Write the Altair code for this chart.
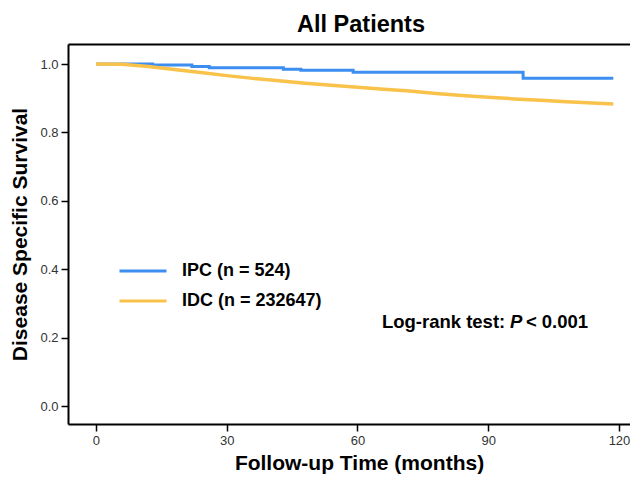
import altair as alt
import pandas as pd

# ---- data ----
groups = ["IPC (n = 524)", "IDC (n = 232647)"]
colors = ["#3C8EF0", "#F9C24A"]

ipc_months = [0, 13, 22, 26, 43, 47, 59, 98, 118.7]
ipc_surv = [1.0, 0.997, 0.993, 0.989, 0.985, 0.982, 0.976, 0.958, 0.958]

idc_months = [0, 6, 12, 18, 24, 30, 36, 42, 48, 54, 60, 66, 72, 78, 84, 90,
              96, 102, 108, 114, 118.7]
idc_surv = [1.0, 0.999, 0.993, 0.984, 0.975, 0.966, 0.958, 0.951, 0.944,
            0.938, 0.932, 0.926, 0.921, 0.914, 0.908, 0.903, 0.898, 0.894,
            0.890, 0.886, 0.883]

x_ticks = [0, 30, 60, 90, 120]
y_ticks = [0.0, 0.2, 0.4, 0.6, 0.8, 1.0]

annot_month = [65.6]
annot_surv = [0.2456]
annot_parts = ["Log-rank test: ", "P", "< 0.001"]

FONT = "Liberation Sans"

ipc = pd.DataFrame({"month": ipc_months, "surv": ipc_surv, "group": groups[0]})
idc = pd.DataFrame({"month": idc_months, "surv": idc_surv, "group": groups[1]})
ann = pd.DataFrame({"month": annot_month, "surv": annot_surv,
                    "a": [annot_parts[0]], "b": [annot_parts[1]], "c": [annot_parts[2]]})

xscale = alt.Scale(domain=[-6.42, 122.53], nice=False, zero=False)
yscale = alt.Scale(domain=[-0.0526, 1.0585], nice=False, zero=False)

xaxis = alt.Axis(values=x_ticks, format="d", title="Follow-up Time (months)",
                 orient="bottom",
                 titleFontSize=21, titleFontWeight="bold", titleFont=FONT,
                 titleColor="black", titlePadding=5, titleX=291,
                 labelFont=FONT, labelFontSize=13, labelColor="#333333",
                 labelPadding=3, tickSize=7, tickWidth=1.5, tickColor="black",
                 domainColor="black", domainWidth=2, grid=False)
yaxis = alt.Axis(values=y_ticks, format=".1f", title="Disease Specific Survival",
                 titleFontSize=21, titleFontWeight="bold", titleFont=FONT,
                 titleColor="black", titlePadding=9,
                 labelFont=FONT, labelFontSize=13, labelColor="#333333",
                 labelPadding=3, tickSize=7, tickWidth=1.5, tickColor="black",
                 domainColor="black", domainWidth=2, grid=False)

color = alt.Color("group:N",
                  scale=alt.Scale(domain=groups, range=colors),
                  legend=alt.Legend(orient="none", legendX=50, legendY=218,
                                    title=None, symbolType="stroke",
                                    symbolSize=2209, symbolStrokeWidth=3,
                                    labelFontSize=18, labelFontWeight="bold",
                                    labelFont=FONT, labelColor="black",
                                    labelOffset=14, clipHeight=18,
                                    rowPadding=12))

ipc_line = alt.Chart(ipc).mark_line(interpolate="step-after", strokeWidth=3).encode(
    x=alt.X("month:Q", scale=xscale, axis=xaxis),
    y=alt.Y("surv:Q", scale=yscale, axis=yaxis),
    color=color,
)
idc_line = alt.Chart(idc).mark_line(strokeWidth=3.5).encode(
    x=alt.X("month:Q", scale=xscale, axis=None),
    y=alt.Y("surv:Q", scale=yscale),
    color=color,
)

top_border = alt.Chart(ipc).mark_point(opacity=0).encode(
    x=alt.X("month:Q", scale=xscale,
            axis=alt.Axis(orient="top", labels=False, ticks=False, title=None,
                          domainColor="black", domainWidth=2, grid=False)),
    y=alt.Y("surv:Q", scale=yscale),
)

txt_kw = dict(font=FONT, fontSize=18.5, fontWeight="bold", align="left",
              baseline="middle", color="black")
tx = alt.X("month:Q", axis=None)
ty = alt.Y("surv:Q")
t1 = alt.Chart(ann).mark_text(**txt_kw).encode(x=tx, y=ty, text="a:N")
t2 = alt.Chart(ann).mark_text(dx=128, fontStyle="italic", **txt_kw).encode(
    x=tx, y=ty, text="b:N")
t3 = alt.Chart(ann).mark_text(dx=144, **txt_kw).encode(x=tx, y=ty, text="c:N")

chart = alt.layer(ipc_line, idc_line, top_border, t1, t2, t3).resolve_axis(
    x="independent"
).properties(
    width=562, height=380,
    title=alt.TitleParams("All Patients", fontSize=23.5, fontWeight="bold",
                          font=FONT, color="black", dx=12, offset=8),
    autosize=alt.AutoSizeParams(type="none"),
    padding={"left": 60, "top": 36, "right": 0, "bottom": 51},
).configure_view(stroke=None)

chart.save("out.html", embed_options={"renderer": "svg", "actions": False})
